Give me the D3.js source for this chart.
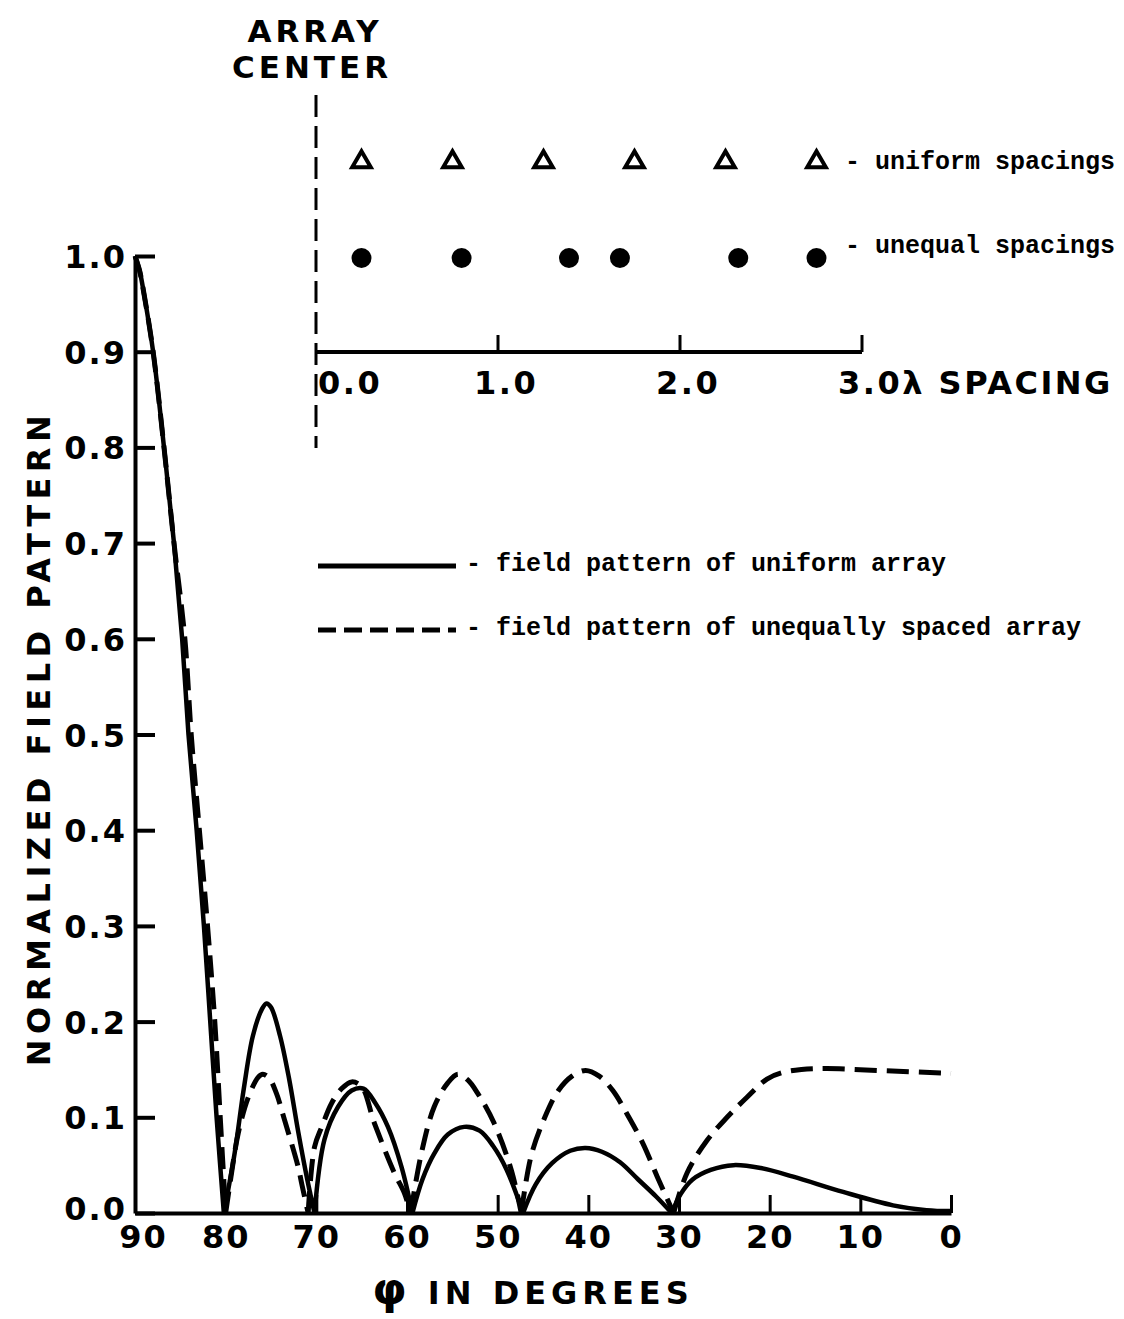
<!DOCTYPE html>
<html>
<head>
<meta charset="utf-8">
<script src="https://cdn.jsdelivr.net/npm/d3@7"></script>
<style>
  body { margin: 0; background: #fff; }
  .blk { font-family: "DejaVu Sans", sans-serif; font-weight: bold; fill: #000; }
  .tw { font-family: "Liberation Mono", monospace; font-weight: bold; fill: #000; }
</style>
</head>
<body>
<div id="chart"></div>
<script>
// main chart data
const uniformPhi = [90, 89.5, 89, 88, 86.8, 85.7, 84.8, 84.1, 83.2, 82.4, 81.7, 81, 80.2,
  79, 78, 77, 76, 75.5, 75, 74, 73, 72, 71, 70.2,
  69.1, 67.6, 66.1, 64.8, 63.5, 62.1, 60.6, 59.4,
  58.3, 57, 55.5, 53.7, 52, 50.5, 49, 47.2,
  45.8, 44, 42, 40.3, 38.5, 36.5, 34.5, 32.5, 30.8,
  29.8, 28.5, 26.5, 24, 21, 17.4, 11.9, 6.4, 2.7, 0];
const uniformVal = [1.0, 0.985, 0.96, 0.9, 0.8, 0.7, 0.6, 0.5, 0.4, 0.3, 0.2, 0.1, 0,
  0.063, 0.13, 0.185, 0.213, 0.219, 0.215, 0.185, 0.14, 0.085, 0.035, 0,
  0.077, 0.111, 0.128, 0.13, 0.115, 0.09, 0.048, 0,
  0.035, 0.062, 0.082, 0.09, 0.086, 0.07, 0.045, 0,
  0.03, 0.052, 0.065, 0.068, 0.064, 0.053, 0.035, 0.017, 0,
  0.02, 0.035, 0.045, 0.05, 0.047, 0.038, 0.022, 0.008, 0.003, 0.002];

const unequalPhi = [90, 89.5, 89, 88, 86.8, 85.7, 84.5, 83.8, 82.9, 82.0, 81.2, 80.6, 80.0,
  79.3, 78.6, 77.5, 76.4, 75.9, 75.2, 74.4, 73.5, 72, 71.6, 70.9,
  70.2, 69.4, 68.3, 67.2, 66.1, 65, 63.6, 61.4, 60.3, 59.6,
  58.4, 57, 55.5, 54.4, 53.3, 52.2, 50.4, 48.5, 47.4,
  46.3, 44.8, 43.3, 41.8, 40.3, 38.8, 37.3, 35.7, 34, 32.4, 30.6,
  29.1, 26.9, 24.7, 22.5, 20.3, 18.5, 16.5, 13.7, 8.2, 0];
const unequalVal = [1.0, 0.985, 0.96, 0.9, 0.8, 0.7, 0.6, 0.5, 0.4, 0.3, 0.2, 0.1, 0,
  0.045, 0.084, 0.121, 0.142, 0.145, 0.141, 0.125, 0.097, 0.048, 0.03, 0,
  0.069, 0.09, 0.115, 0.13, 0.137, 0.132, 0.094, 0.042, 0.021, 0,
  0.063, 0.111, 0.136, 0.145, 0.139, 0.125, 0.094, 0.045, 0,
  0.06, 0.1, 0.128, 0.143, 0.149, 0.143, 0.128, 0.103, 0.073, 0.038, 0,
  0.042, 0.076, 0.1, 0.121, 0.14, 0.147, 0.15, 0.151, 0.149, 0.146];

const yTicks = [0, 0.1, 0.2, 0.3, 0.4, 0.5, 0.6, 0.7, 0.8, 0.9, 1.0];
const xTicks = [90, 80, 70, 60, 50, 40, 30, 20, 10, 0];

// inset: element positions in wavelengths
const uniformSpacing = [0.25, 0.75, 1.25, 1.75, 2.25, 2.75];
const unequalSpacing = [0.25, 0.8, 1.39, 1.67, 2.32, 2.75];
const spacingTicks = [0, 1, 2, 3];
const spacingLabels = ["0.0", "1.0", "2.0", "3.0\u03bb SPACING"];

const W = 1124, H = 1319;
const svg = d3.select("#chart").append("svg")
  .attr("width", W).attr("height", H)
  .style("background", "#fff");

const x = d3.scaleLinear().domain([90, 0]).range([135, 951]);
const y = d3.scaleLinear().domain([0, 1]).range([1213, 256]);

// y axis, ticks pointing inward
const yAxis = d3.axisLeft(y).tickValues(yTicks).tickSize(-20).tickSizeOuter(0)
  .tickPadding(8).tickFormat(d3.format(".1f"));
const gy = svg.append("g").attr("transform", "translate(135,0)").call(yAxis);
gy.select(".domain").attr("stroke-width", 4);
gy.selectAll(".tick line").attr("stroke-width", 4);
gy.selectAll(".tick text").attr("class", "blk").style("font-size", "32px")
  .attr("letter-spacing", 2).attr("dy", "0.36em");
gy.selectAll(".tick").filter(d => d == 0).select("text").attr("dy", "0.2em");

// x axis
const xAxis = d3.axisBottom(x).tickValues(xTicks).tickSize(-18).tickSizeOuter(0)
  .tickPadding(6).tickFormat(d3.format("d"));
const gx = svg.append("g").attr("transform", "translate(0,1213)").call(xAxis);
gx.select(".domain").attr("stroke-width", 4);
gx.selectAll(".tick line").attr("stroke-width", 3);
gx.selectAll(".tick").filter(d => d == 90).select("line").remove();
gx.selectAll(".tick").filter(d => d == 90).select("text").attr("dx", 8);
gx.selectAll(".tick text").attr("class", "blk").style("font-size", "32px")
  .attr("letter-spacing", 2).attr("dy", "0.9em");

// axis titles
svg.append("text").attr("class", "blk")
  .attr("transform", "translate(50,738) rotate(-90)")
  .attr("text-anchor", "middle").style("font-size", "32px").attr("letter-spacing", 5.5)
  .text("NORMALIZED FIELD PATTERN");
const xt = svg.append("text").attr("class", "blk")
  .attr("x", 533).attr("y", 1304).attr("text-anchor", "middle")
  .style("font-size", "32px").attr("letter-spacing", 5);
xt.append("tspan").style("font-size", "44px").text("\u03c6");
xt.append("tspan").text(" IN DEGREES");

// split a series into lobes at the nulls so the nulls stay sharp
function lobes(phi, val) {
  const pts = phi.map((p, i) => ({ phi: p, v: val[i] }));
  const out = [];
  let cur = [];
  pts.forEach((d, i) => {
    cur.push(d);
    if (d.v === 0 && i > 0 && i < pts.length - 1) {
      out.push(cur);
      cur = [d];
    }
  });
  out.push(cur);
  return out;
}
const line = d3.line().x(d => x(d.phi)).y(d => y(d.v)).curve(d3.curveCatmullRom.alpha(0.5));

svg.append("path")
  .attr("d", lobes(unequalPhi, unequalVal).map(line).join(""))
  .attr("fill", "none").attr("stroke", "#000").attr("stroke-width", 5)
  .attr("stroke-dasharray", "22 10");
svg.append("path")
  .attr("d", lobes(uniformPhi, uniformVal).map(line).join(""))
  .attr("fill", "none").attr("stroke", "#000").attr("stroke-width", 4.5);

// curve legend
const legendY = [566, 630];
svg.append("line").attr("x1", 318).attr("x2", 456).attr("y1", legendY[0]).attr("y2", legendY[0])
  .attr("stroke", "#000").attr("stroke-width", 5);
svg.append("line").attr("x1", 318).attr("x2", 456).attr("y1", legendY[1]).attr("y2", legendY[1])
  .attr("stroke", "#000").attr("stroke-width", 5).attr("stroke-dasharray", "18 8");
svg.append("text").attr("class", "tw").attr("x", 466).attr("y", legendY[0] + 5)
  .style("font-size", "25px").text("- field pattern of uniform array");
svg.append("text").attr("class", "tw").attr("x", 466).attr("y", legendY[1] + 5)
  .style("font-size", "25px").text("- field pattern of unequally spaced array");

// inset: array layout
const s = d3.scaleLinear().domain([0, 3]).range([316, 862]);
const row = d3.scalePoint().domain(["uniform", "unequal", "axis"]).range([160, 352]);

svg.append("line").attr("x1", 316).attr("x2", 316).attr("y1", 95).attr("y2", 448)
  .attr("stroke", "#000").attr("stroke-width", 3).attr("stroke-dasharray", "22 9");

svg.append("line").attr("x1", s(0)).attr("x2", s(3)).attr("y1", row("axis")).attr("y2", row("axis"))
  .attr("stroke", "#000").attr("stroke-width", 4);
svg.selectAll(".stick").data(spacingTicks.slice(1)).join("line")
  .attr("x1", d => s(d)).attr("x2", d => s(d))
  .attr("y1", row("axis")).attr("y2", row("axis") - 17)
  .attr("stroke", "#000").attr("stroke-width", 3);
svg.selectAll(".slab").data(spacingTicks).join("text").attr("class", "blk")
  .attr("x", (d, i) => i == 0 ? s(d) + 2 : s(d) - 24)
  .attr("y", row("axis") + 42)
  .style("font-size", "32px").attr("letter-spacing", 2.5)
  .text((d, i) => spacingLabels[i]);

svg.selectAll(".tri").data(uniformSpacing).join("path")
  .attr("d", d3.symbol(d3.symbolTriangle, 150))
  .attr("transform", d => "translate(" + s(d) + "," + (row("uniform") + 2) + ")")
  .attr("fill", "none").attr("stroke", "#000").attr("stroke-width", 4);
svg.selectAll(".dot").data(unequalSpacing).join("circle")
  .attr("cx", d => s(d)).attr("cy", row("unequal") + 2).attr("r", 10).attr("fill", "#000");

svg.append("text").attr("class", "tw").attr("x", 845).attr("y", row("uniform") + 9)
  .style("font-size", "25px").text("- uniform spacings");
svg.append("text").attr("class", "tw").attr("x", 845).attr("y", row("unequal") - 3)
  .style("font-size", "25px").text("- unequal spacings");

svg.append("text").attr("class", "blk").attr("x", 315).attr("y", 42)
  .attr("text-anchor", "middle").style("font-size", "31px").attr("letter-spacing", 4).text("ARRAY");
svg.append("text").attr("class", "blk").attr("x", 312).attr("y", 78)
  .attr("text-anchor", "middle").style("font-size", "31px").attr("letter-spacing", 4).text("CENTER");
</script>
</body>
</html>
